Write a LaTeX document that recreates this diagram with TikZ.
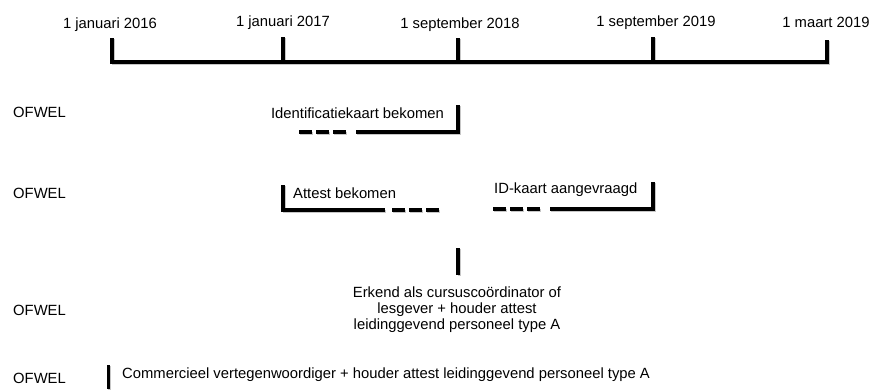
\documentclass[tikz,border=0pt]{standalone}
\usepackage{fontspec}
\setmainfont{Liberation Sans}
\begin{document}
\begin{tikzpicture}[x=1pt,y=-1pt,
  lbl/.style={font=\fontsize{14.8}{16}\selectfont, inner sep=0pt, anchor=base},
  lblw/.style={lbl, anchor=base west},
  bar/.style={line width=3.2pt, line join=miter, draw=black},
  shd/.style={line width=3.2pt, line join=miter, draw=black!22,
    transform canvas={xshift=1.2pt,yshift=-1.4pt}},
  dsh/.style={dash pattern=on 13pt off 4pt}]
\useasboundingbox (0,0) rectangle (874,389);
% coordinates
\coordinate (a0) at (112,38);  \coordinate (a) at (112,62);
\coordinate (b0) at (283,37);  \coordinate (b) at (283,62);
\coordinate (c0) at (458,38);  \coordinate (c) at (458,62);
\coordinate (d0) at (653,37);  \coordinate (d) at (653,62);
\coordinate (e0) at (827,40);  \coordinate (e) at (827,62);
\coordinate (p1) at (458,105); \coordinate (p2) at (458,132); \coordinate (p3) at (356,132);
\coordinate (p4) at (346,132); \coordinate (p5) at (299,132);
\coordinate (q1) at (283,185); \coordinate (q2) at (283,210); \coordinate (q3) at (385,210);
\coordinate (q4) at (392,210); \coordinate (q5) at (439,210);
\coordinate (r1) at (653,182); \coordinate (r2) at (653,209); \coordinate (r3) at (550,209);
\coordinate (r4) at (540,209); \coordinate (r5) at (493,209);
\coordinate (s1) at (458,248); \coordinate (s2) at (458,275);
\coordinate (u1) at (108.5,365); \coordinate (u2) at (108.5,389);
% bars: shadow pass, then black pass
\foreach \st in {shd,bar} {
  \path[style=\st] (a0) -- (a) -- (e) -- (e0);
  \path[style=\st] (b0) -- (b);
  \path[style=\st] (c0) -- (c);
  \path[style=\st] (d0) -- (d);
  \path[style=\st] (p1) -- (p2) -- (p3);
  \path[style=\st, dsh] (p5) -- (p4);
  \path[style=\st] (q1) -- (q2) -- (q3);
  \path[style=\st, dsh] (q4) -- (q5);
  \path[style=\st] (r1) -- (r2) -- (r3);
  \path[style=\st, dsh] (r5) -- (r4);
  \path[style=\st] (s1) -- (s2);
  \path[style=\st] (u1) -- (u2);
}
% timeline labels
\node[lbl] (la) at (110,28) {1 januari 2016};
\node[lbl] (lb) at (283,26.7) {1 januari 2017};
\node[lbl] (lc) at (460,28) {1 september 2018};
\node[lbl] (ld) at (656,26.7) {1 september 2019};
\node[lbl] (le) at (826,27.3) {1 maart 2019};
% row 1
\node[lblw] (o1) at (13,117) {OFWEL};
\node[lbl] (id) at (357.5,118) {Identificatiekaart bekomen};
% row 2
\node[lblw] (o2) at (13,198) {OFWEL};
\node[lblw] (at) at (293,198) {Attest bekomen};
\node[lblw] (ik) at (494,193) {ID-kaart aangevraagd};
% row 3
\node[lblw] (o3) at (13,315) {OFWEL};
\node[lbl, align=center, anchor=north] (er) at (457,286.5) {Erkend als cursuscoördinator of\\lesgever + houder attest\\leidinggevend personeel type A};
% row 4
\node[lblw] (o4) at (13,383) {OFWEL};
\node[lblw] (cv) at (122,378) {Commercieel vertegenwoordiger + houder attest leidinggevend personeel type A};
\end{tikzpicture}
\end{document}
